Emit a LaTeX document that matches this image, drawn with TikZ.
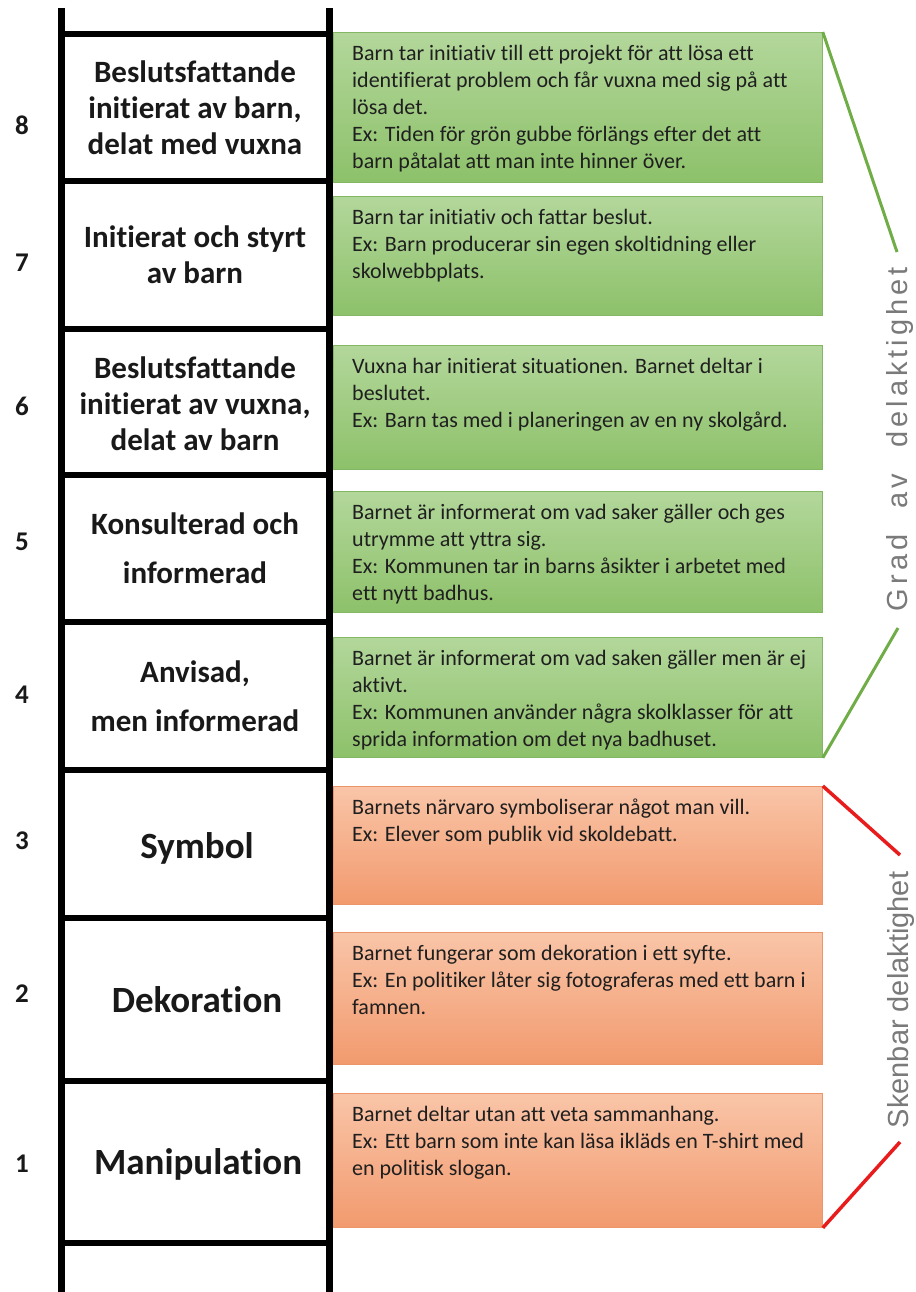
\documentclass[tikz,border=0pt]{standalone}
\usepackage{fontspec}
\setmainfont{Carlito}[Ligatures={NoCommon}]
\newfontfamily\gradfont[LetterSpace=14]{Liberation Sans}
\newfontfamily\skenfont{Liberation Sans}
\usetikzlibrary{calc}
\definecolor{gtopc}{HTML}{B3D79B}
\definecolor{gbotc}{HTML}{8DC16A}
\definecolor{gedge}{HTML}{84B764}
\definecolor{rtopc}{HTML}{F9C5A8}
\definecolor{rbotc}{HTML}{F29A6E}
\definecolor{redge}{HTML}{EC956B}
\definecolor{glinec}{HTML}{70AD47}
\definecolor{rlinec}{HTML}{E81C1C}
\definecolor{sidegrey}{HTML}{7A7A7A}
\tikzset{
  rail/.style={line width=7pt, black},
  rung/.style={line width=6pt, black},
  gbox/.style={draw=gedge, line width=0.8pt, top color=gtopc, bottom color=gbotc, anchor=north west, minimum width=489pt, inner sep=0pt},
  rbox/.style={draw=redge, line width=0.8pt, top color=rtopc, bottom color=rbotc, anchor=north west, minimum width=489pt, inner sep=0pt},
  btext/.style={anchor=north west, inner sep=0pt, align=left, text=black!88, font=\fontsize{22}{27}\selectfont},
  labtop/.style={align=center, inner sep=0pt, text=black!90, font=\bfseries\fontsize{31}{36}\selectfont},
  labwide/.style={align=center, inner sep=0pt, text=black!90, font=\bfseries\fontsize{31}{49}\selectfont},
  labbig/.style={align=center, inner sep=0pt, text=black!90, font=\bfseries\fontsize{37}{42}\selectfont},
  num/.style={inner sep=0pt, text=black!90, font=\bfseries\fontsize{27}{30}\selectfont},
  gline/.style={glinec, line width=3pt},
  rline/.style={rlinec, line width=3.5pt},
  sidetext/.style={inner sep=0pt, text=sidegrey, rotate=90}
}
\begin{document}
\begin{tikzpicture}[x=1pt,y=-1pt]
\useasboundingbox[fill=white] (0,0) rectangle (915,1292);

% ladder
\draw[rail] (61,8) -- (61,1292);
\draw[rail] (329,8) -- (329,1292);
\foreach \yy in {34,181,329,475,622,770,918,1081,1243}
  \draw[rung] (61,\yy) -- (329,\yy);

% numbers
\node[num] (n8) at (22,125) {8};
\node[num] (n7) at (22,263) {7};
\node[num] (n6) at (22,406) {6};
\node[num] (n5) at (22,542) {5};
\node[num] (n4) at (22,695) {4};
\node[num] (n3) at (22,841) {3};
\node[num] (n2) at (22,994) {2};
\node[num] (n1) at (22,1164) {1};

% ladder labels
\node[labtop] (l8) at (195,108) {Beslutsfattande\\initierat av barn,\\delat med vuxna};
\node[labtop] (l7) at (195,255) {Initierat och styrt\\av barn};
\node[labtop] (l6) at (195,404) {Beslutsfattande\\initierat av vuxna,\\delat av barn};
\node[labwide] (l5) at (195,548) {Konsulterad och\\informerad};
\node[labwide] (l4) at (195,696) {Anvisad,\\men informerad};
\node[labbig] (l3) at (197,848) {Symbol};
\node[labbig] (l2) at (197,1000) {Dekoration};
\node[labbig] (l1) at (198,1164) {Manipulation};

% boxes
\node[gbox, minimum height=150pt] (b8) at (333,32) {};
\node[gbox, minimum height=119pt] (b7) at (333,196) {};
\node[gbox, minimum height=124pt] (b6) at (333,345) {};
\node[gbox, minimum height=121pt] (b5) at (333,491) {};
\node[gbox, minimum height=120pt] (b4) at (333,637) {};
\node[rbox, minimum height=118pt] (b3) at (333,786) {};
\node[rbox, minimum height=132pt] (b2) at (333,932) {};
\node[rbox, minimum height=134pt] (b1) at (333,1093) {};

% box texts
\node[btext] (t8) at ($(b8.north west)+(19,9)$) {\strut Barn tar initiativ till ett projekt för att lösa ett\\identifierat problem och får vuxna med sig på att\\lösa det.\\Ex: Tiden för grön gubbe förlängs efter det att\\barn påtalat att man inte hinner över.};
\node[btext] (t7) at ($(b7.north west)+(19,9)$) {\strut Barn tar initiativ och fattar beslut.\\Ex: Barn producerar sin egen skoltidning eller\\skolwebbplats.};
\node[btext] (t6) at ($(b6.north west)+(19,9)$) {\strut Vuxna har initierat situationen. Barnet deltar i\\beslutet.\\Ex: Barn tas med i planeringen av en ny skolgård.};
\node[btext] (t5) at ($(b5.north west)+(19,9)$) {\strut Barnet är informerat om vad saker gäller och ges\\utrymme att yttra sig.\\Ex: Kommunen tar in barns åsikter i arbetet med\\ett nytt badhus.};
\node[btext] (t4) at ($(b4.north west)+(19,9)$) {\strut Barnet är informerat om vad saken gäller men är ej\\aktivt.\\Ex: Kommunen använder några skolklasser för att\\sprida information om det nya badhuset.};
\node[btext] (t3) at ($(b3.north west)+(19,9)$) {\strut Barnets närvaro symboliserar något man vill.\\Ex: Elever som publik vid skoldebatt.};
\node[btext] (t2) at ($(b2.north west)+(19,9)$) {\strut Barnet fungerar som dekoration i ett syfte.\\Ex: En politiker låter sig fotograferas med ett barn i\\famnen.};
\node[btext] (t1) at ($(b1.north west)+(19,9)$) {\strut Barnet deltar utan att veta sammanhang.\\Ex: Ett barn som inte kan läsa ikläds en T-shirt med\\en politisk slogan.};

% side brackets
\coordinate (gt) at (897,252);
\coordinate (gb) at (898,628);
\coordinate (rt) at (900,855);
\coordinate (rb) at (900,1142);
\draw[gline] (b8.north east) -- (gt);
\draw[gline] (gb) -- (b4.south east);
\draw[rline] (b3.north east) -- (rt);
\draw[rline] (rb) -- (b1.south east);

\node[sidetext, font=\gradfont\fontsize{29}{32}\selectfont] (grad) at (900,439) {Grad\hspace{26pt}av\hspace{26pt}delaktighet};
\node[sidetext, font=\skenfont\fontsize{29}{32}\selectfont] (sken) at (901,1000) {Skenbar delaktighet};
\end{tikzpicture}
\end{document}
